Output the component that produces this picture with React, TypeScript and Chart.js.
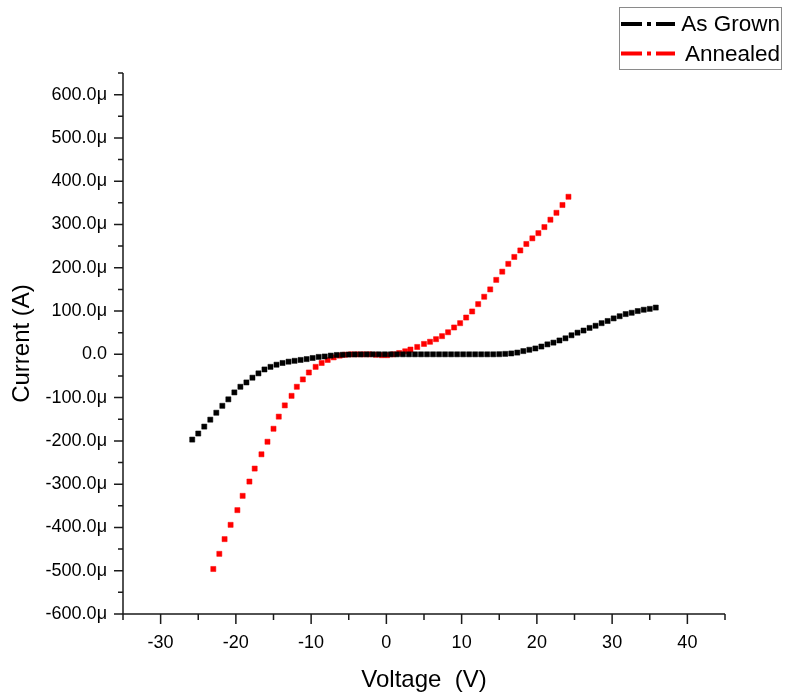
import React, { useEffect, useRef } from 'react';
import { Chart, registerables } from 'chart.js';

Chart.register(...registerables);

const seriesNames = ['As Grown', 'Annealed'];
const seriesColors = ['#000000', '#ff0000'];

// As Grown: voltage (V) and current (µA)
const asGrownV = [
  -25.8, -25.0, -24.2, -23.4, -22.6, -21.8, -21.0, -20.2, -19.4, -18.6,
  -17.8, -17.0, -16.2, -15.4, -14.6, -13.8, -13.0, -12.2, -11.4, -10.6,
  -9.8, -9.0, -8.2, -7.4, -6.6, -5.8, -5.0, -4.2, -3.4, -2.6,
  -1.8, -1.0, -0.2, 0.6, 1.4, 2.2, 3.0, 3.8, 4.6, 5.4,
  6.2, 7.0, 7.8, 8.6, 9.4, 10.2, 11.0, 11.8, 12.6, 13.4,
  14.2, 15.0, 15.8, 16.6, 17.4, 18.2, 19.0, 19.8, 20.6, 21.4,
  22.2, 23.0, 23.8, 24.6, 25.4, 26.2, 27.0, 27.8, 28.6, 29.4,
  30.2, 31.0, 31.8, 32.6, 33.4, 34.2, 35.0, 35.8,
];
const asGrownI = [
  -197, -183, -167, -151, -135, -119, -104, -88, -75, -65,
  -54, -44, -35, -29, -24, -20, -17, -15, -13, -11,
  -8.5, -6, -5, -3, -1.5, -1, -0.5, -0.3, -0.2, -0.1,
  0, 0, 0, 0, 0, 0, 0, 0, 0, 0,
  0, 0, 0, 0, 0, 0, 0, 0, 0, 0,
  0, 0.3, 1, 2, 4, 7.5, 10.5, 13.5, 18, 23,
  27, 32, 37, 44, 50, 55, 61, 66, 72, 77,
  83, 88, 93, 96, 100, 103, 105, 108,
];

// Annealed: voltage (V) and current (µA)
const annealedV = [
  -23.0, -22.2, -21.5, -20.7, -19.8, -19.1, -18.2, -17.5, -16.6, -15.8,
  -15.0, -14.3, -13.5, -12.6, -11.9, -11.1, -10.3, -9.4, -8.6, -7.8,
  -7.0, -6.2, -5.5, -4.7, -3.9, -3.1, -2.3, -1.4, -0.6, 0.1,
  0.9, 1.7, 2.5, 3.2, 4.1, 5.0, 5.8, 6.6, 7.4, 8.2,
  9.0, 9.8, 10.6, 11.4, 12.2, 13.0, 13.8, 14.6, 15.4, 16.2,
  17.0, 17.8, 18.6, 19.4, 20.2, 21.0, 21.8, 22.6, 23.4, 24.2,
];
const annealedI = [
  -496, -461, -427, -394, -360, -327, -294, -264, -231, -202,
  -172, -144, -118, -96, -75, -58, -42, -29, -20, -13,
  -7, -3, -1, 0, 0, 0, 0, -1, -2, -2,
  0, 3, 7, 11, 17, 24, 29, 35, 42, 51,
  62, 72, 85, 99, 116, 133, 150, 172, 191, 209,
  225, 240, 255, 268, 280, 294, 311, 327, 345, 364,
];

const xMajorTicks = [-30, -20, -10, 0, 10, 20, 30, 40];
const xMinorTicks = [-35, -25, -15, -5, 5, 15, 25, 35, 45];
const yMajorTicks = [-600, -500, -400, -300, -200, -100, 0, 100, 200, 300, 400, 500, 600];
const yMinorTicks = [-550, -450, -350, -250, -150, -50, 50, 150, 250, 350, 450, 550, 650];

const X_MIN = -35;
const X_MAX = 45;
const Y_MIN = -600;
const Y_MAX = 650;

const FONT = '"Liberation Sans", Arial, sans-serif';

const originAxesPlugin = {
  id: 'originAxes',
  afterDraw(chart: any) {
    const { ctx } = chart;
    const xs = chart.scales.x;
    const ys = chart.scales.y;
    const axisX = xs.getPixelForValue(X_MIN);
    const axisY = ys.getPixelForValue(Y_MIN);
    ctx.save();
    ctx.strokeStyle = '#1a1a1a';
    ctx.lineWidth = 1.5;
    ctx.lineCap = 'butt';
    // axis lines
    ctx.beginPath();
    ctx.moveTo(axisX, ys.getPixelForValue(Y_MAX));
    ctx.lineTo(axisX, axisY);
    ctx.moveTo(axisX, axisY);
    ctx.lineTo(xs.getPixelForValue(X_MAX), axisY);
    ctx.stroke();
    // ticks
    ctx.beginPath();
    yMajorTicks.forEach((v) => {
      const p = ys.getPixelForValue(v);
      ctx.moveTo(axisX - 9, p);
      ctx.lineTo(axisX, p);
    });
    yMinorTicks.forEach((v) => {
      const p = ys.getPixelForValue(v);
      ctx.moveTo(axisX - 5, p);
      ctx.lineTo(axisX, p);
    });
    xMajorTicks.forEach((v) => {
      const p = xs.getPixelForValue(v);
      ctx.moveTo(p, axisY);
      ctx.lineTo(p, axisY + 10);
    });
    xMinorTicks.forEach((v) => {
      const p = xs.getPixelForValue(v);
      ctx.moveTo(p, axisY);
      ctx.lineTo(p, axisY + 6);
    });
    ctx.stroke();

    // legend box
    const bx = 619.5, by = 7.5, bw = 162, bh = 62;
    ctx.strokeStyle = '#8a8a8a';
    ctx.lineWidth = 1;
    ctx.strokeRect(bx, by, bw, bh);
    const rows = [24, 53.5];
    chart.data.datasets.forEach((ds: any, i: number) => {
      const ry = rows[i];
      ctx.strokeStyle = ds.backgroundColor;
      ctx.lineWidth = 4;
      ctx.setLineDash([21, 5, 4, 5, 19]);
      ctx.beginPath();
      ctx.moveTo(621, ry);
      ctx.lineTo(675, ry);
      ctx.stroke();
      ctx.setLineDash([]);
      ctx.fillStyle = '#000';
      ctx.font = `22.5px ${FONT}`;
      ctx.textAlign = 'right';
      ctx.textBaseline = 'middle';
      ctx.fillText(ds.label, 780, ry + 1);
    });
    ctx.restore();
  },
};

export default function App() {
  const canvasRef = useRef<HTMLCanvasElement | null>(null);

  useEffect(() => {
    const canvas = canvasRef.current;
    if (!canvas) return;
    const chart = new Chart(canvas, {
      type: 'scatter',
      data: {
        datasets: [
          {
            label: seriesNames[0],
            data: asGrownV.map((v, i) => ({ x: v, y: asGrownI[i] })),
            backgroundColor: seriesColors[0],
            borderColor: seriesColors[0],
            pointStyle: 'rect',
            pointRadius: 3.6,
            pointBorderWidth: 0.5,
            showLine: false,
          },
          {
            label: seriesNames[1],
            data: annealedV.map((v, i) => ({ x: v, y: annealedI[i] })),
            backgroundColor: seriesColors[1],
            borderColor: seriesColors[1],
            pointStyle: 'rect',
            pointRadius: 3.6,
            pointBorderWidth: 0.5,
            showLine: false,
          },
        ],
      },
      options: {
        animation: false,
        responsive: false,
        devicePixelRatio: 1,
        layout: { padding: { top: 73, right: 60, left: 0, bottom: 0 } },
        plugins: {
          legend: { display: false },
          tooltip: { enabled: false },
        },
        scales: {
          x: {
            type: 'linear',
            min: X_MIN,
            max: X_MAX,
            afterBuildTicks: (scale: any) => {
              scale.ticks = xMajorTicks.map((v) => ({ value: v }));
            },
            afterFit: (scale: any) => {
              scale.height = 81;
            },
            grid: { display: false, drawTicks: false },
            border: { display: false },
            ticks: {
              color: '#000',
              font: { family: FONT, size: 18 },
              padding: 18,
              maxRotation: 0,
              autoSkip: false,
              callback: (v: any) => String(v),
            },
            title: {
              display: true,
              text: 'Voltage  (V)',
              color: '#000',
              font: { family: FONT, size: 24 },
              padding: { top: 0, bottom: 0 },
            },
          },
          y: {
            type: 'linear',
            min: Y_MIN,
            max: Y_MAX,
            afterBuildTicks: (scale: any) => {
              scale.ticks = yMajorTicks.map((v) => ({ value: v }));
            },
            afterFit: (scale: any) => {
              scale.width = 123;
            },
            grid: { display: false, drawTicks: false },
            border: { display: false },
            ticks: {
              color: '#000',
              font: { family: FONT, size: 18 },
              padding: 16,
              autoSkip: false,
              callback: (v: any) => (Number(v) === 0 ? '0.0' : `${Number(v).toFixed(1)}μ`),
            },
            title: {
              display: true,
              text: 'Current (A)',
              color: '#000',
              font: { family: FONT, size: 24 },
              padding: { top: 8, bottom: 0 },
            },
          },
        },
      },
      plugins: [originAxesPlugin],
    } as any);
    return () => chart.destroy();
  }, []);

  return (
    <div style={{ position: 'absolute', left: 0, top: 0, width: 785, height: 695, background: '#fff' }}>
      <canvas ref={canvasRef} width={785} height={695} />
    </div>
  );
}
